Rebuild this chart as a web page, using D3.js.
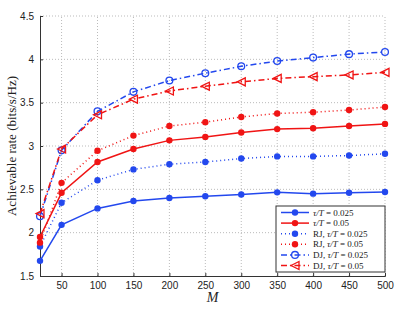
<!DOCTYPE html>
<html>
<head>
<meta charset="utf-8">
<script src="https://cdn.jsdelivr.net/npm/d3@7"></script>
<style>
  body { margin: 0; background: #fff; }
  .tick text { font-family: "Liberation Sans", Arial, sans-serif; font-size: 10px; fill: #222; }
  .grid line { stroke: #bbb; stroke-dasharray: 1,2; }
</style>
</head>
<body>
<div id="chart"></div>
<script>
// x values (M)
const M = [20, 50, 100, 150, 200, 250, 300, 350, 400, 450, 500];

// achievable rate series
const rate025 = [1.675, 2.09, 2.28, 2.365, 2.40, 2.42, 2.44, 2.465, 2.45, 2.46, 2.47];
const rate05 = [1.95, 2.46, 2.815, 2.965, 3.065, 3.105, 3.155, 3.195, 3.205, 3.23, 3.255];
const rj025 = [1.84, 2.345, 2.605, 2.73, 2.79, 2.815, 2.855, 2.88, 2.88, 2.89, 2.91];
const rj05 = [1.885, 2.575, 2.945, 3.12, 3.23, 3.275, 3.335, 3.375, 3.39, 3.415, 3.45];
const dj025 = [2.19, 2.95, 3.40, 3.625, 3.755, 3.84, 3.92, 3.98, 4.02, 4.06, 4.085];
const dj05 = [2.22, 2.965, 3.36, 3.54, 3.635, 3.69, 3.74, 3.78, 3.80, 3.82, 3.85];

const xTicks = [50, 100, 150, 200, 250, 300, 350, 400, 450, 500];
const yTicks = [1.5, 2, 2.5, 3, 3.5, 4, 4.5];

const blue = "#2348ee", red = "#f01414";

const series = [
  {name: "rate025", label: ["", "τ/T = 0.025"], values: rate025, color: blue, dash: null, marker: "dot"},
  {name: "rate05", label: ["", "τ/T = 0.05"], values: rate05, color: red, dash: null, marker: "dot"},
  {name: "rj025", label: ["RJ, ", "τ/T = 0.025"], values: rj025, color: blue, dash: "1,3", marker: "dot"},
  {name: "rj05", label: ["RJ, ", "τ/T = 0.05"], values: rj05, color: red, dash: "1,3", marker: "dot"},
  {name: "dj025", label: ["DJ, ", "τ/T = 0.025"], values: dj025, color: blue, dash: "6,3,1.5,3", marker: "circle"},
  {name: "dj05", label: ["DJ, ", "τ/T = 0.05"], values: dj05, color: red, dash: "6,3,1.5,3", marker: "triangle"}
];

const width = 409, height = 311;
const margin = {top: 16, right: 24, bottom: 35, left: 40};

const svg = d3.select("#chart").append("svg")
  .attr("width", width).attr("height", height);

const x = d3.scaleLinear().domain([20, 500]).range([margin.left, width - margin.right]);
const y = d3.scaleLinear().domain([1.5, 4.5]).range([height - margin.bottom, margin.top]);

// grid
svg.append("g").attr("class", "grid")
  .selectAll("line.v").data(xTicks).enter().append("line")
  .attr("x1", d => x(d)).attr("x2", d => x(d))
  .attr("y1", y(1.5)).attr("y2", y(4.5));
svg.append("g").attr("class", "grid")
  .selectAll("line.h").data(yTicks.slice(1)).enter().append("line")
  .attr("x1", x(20)).attr("x2", x(500))
  .attr("y1", d => y(d)).attr("y2", d => y(d));

// axes
const xAxis = d3.axisBottom(x).tickValues(xTicks).tickSize(-3).tickPadding(6).tickFormat(d3.format("d"));
const yAxis = d3.axisLeft(y).tickValues(yTicks).tickSize(-3).tickPadding(6).tickFormat(d => d);

svg.append("g").attr("class", "x axis")
  .attr("transform", "translate(0," + y(1.5) + ")")
  .call(xAxis)
  .call(g => g.select(".domain").attr("stroke", "#333"))
  .call(g => g.selectAll(".tick line").attr("stroke", "#333"));

svg.append("g").attr("class", "y axis")
  .attr("transform", "translate(" + x(20) + ",0)")
  .call(yAxis)
  .call(g => g.select(".domain").attr("stroke", "#333"))
  .call(g => g.selectAll(".tick line").attr("stroke", "#333"));

// axis labels
svg.append("text")
  .attr("transform", "translate(16," + ((y(1.5) + y(4.5)) / 2) + ") rotate(-90)")
  .attr("text-anchor", "middle")
  .style("font-family", "'Liberation Serif', 'Times New Roman', serif")
  .style("font-size", "13px")
  .attr("fill", "#222")
  .text("Achievable rate (bits/s/Hz)");

svg.append("text")
  .attr("x", (x(20) + x(500)) / 2)
  .attr("y", 302)
  .attr("text-anchor", "middle")
  .style("font-family", "'Liberation Serif', 'Times New Roman', serif")
  .style("font-style", "italic")
  .style("font-size", "14px")
  .attr("fill", "#222")
  .text("M");

// lines
const line = d3.line()
  .x((d, i) => x(M[i]))
  .y(d => y(d))
  .curve(d3.curveLinear);

function drawMarker(g, type, color, cx, cy) {
  if (type === "dot") {
    g.append("circle").attr("cx", cx).attr("cy", cy).attr("r", 3.2).attr("fill", color);
  } else if (type === "circle") {
    g.append("circle").attr("cx", cx).attr("cy", cy).attr("r", 3.4)
      .attr("fill", "none").attr("stroke", color).attr("stroke-width", 1.3);
  } else {
    const s = 4;
    g.append("path")
      .attr("d", "M" + (cx - s) + "," + cy + "L" + (cx + s) + "," + (cy - s) + "L" + (cx + s) + "," + (cy + s) + "Z")
      .attr("fill", "none").attr("stroke", color).attr("stroke-width", 1.3);
  }
}

series.forEach(s => {
  const g = svg.append("g").attr("class", "series " + s.name);
  g.append("path")
    .datum(s.values)
    .attr("d", line)
    .attr("fill", "none")
    .attr("stroke", s.color)
    .attr("stroke-width", 1.5)
    .attr("stroke-dasharray", s.dash);
  s.values.forEach((v, i) => drawMarker(g, s.marker, s.color, x(M[i]), y(v)));
});

// legend
const lx = 276, ly = 206, lw = 109, lh = 66;
const legend = svg.append("g").attr("class", "legend");
legend.append("rect")
  .attr("x", lx).attr("y", ly).attr("width", lw).attr("height", lh)
  .attr("fill", "#fff").attr("stroke", "#333").attr("stroke-width", 1);

series.forEach((s, i) => {
  const yy = ly + 6.5 + i * 10.6;
  legend.append("line")
    .attr("x1", lx + 5).attr("x2", lx + 33)
    .attr("y1", yy).attr("y2", yy)
    .attr("stroke", s.color).attr("stroke-width", 1.5)
    .attr("stroke-dasharray", s.dash);
  drawMarker(legend, s.marker, s.color, lx + 19, yy);
  const t = legend.append("text")
    .attr("x", lx + 37).attr("y", yy + 3)
    .style("font-family", "'Liberation Serif', 'Times New Roman', serif")
    .style("font-size", "9px")
    .attr("fill", "#222");
  t.append("tspan").text(s.label[0]);
  const parts = s.label[1].split(" = ");
  t.append("tspan").style("font-style", "italic").text(parts[0]);
  t.append("tspan").text(" = " + parts[1]);
});
</script>
</body>
</html>
